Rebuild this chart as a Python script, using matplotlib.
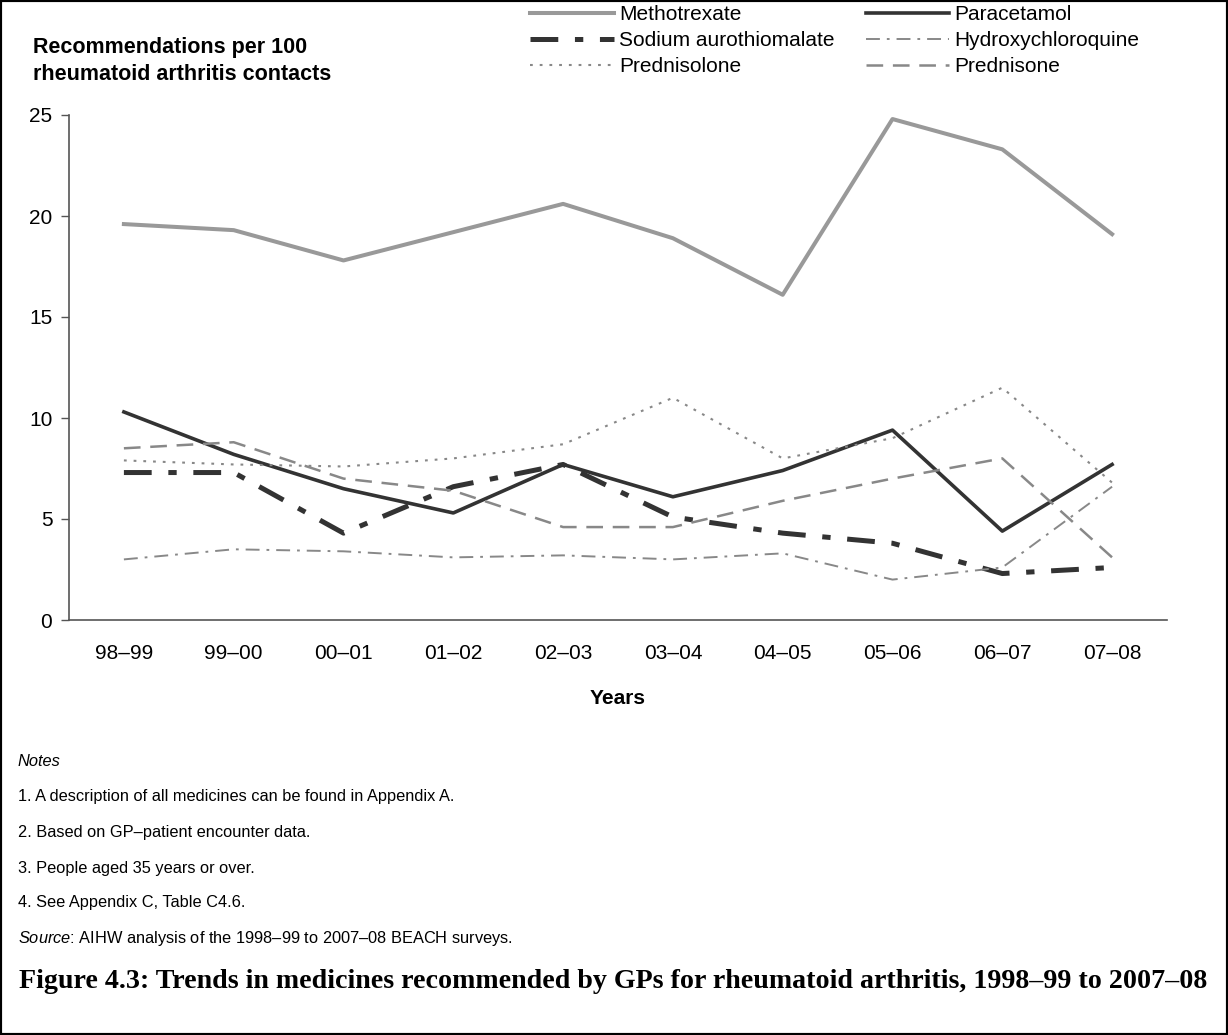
import matplotlib
matplotlib.use("Agg")
import matplotlib.pyplot as plt
from matplotlib.patches import Rectangle

plt.rcParams['font.family'] = ['Liberation Sans', 'DejaVu Sans']
plt.rcParams['lines.scale_dashes'] = False
plt.rcParams['mathtext.fontset'] = 'custom'
plt.rcParams['mathtext.it'] = 'Liberation Sans:italic'
plt.rcParams['mathtext.rm'] = 'Liberation Sans'

years = ['98–99', '99–00', '00–01', '01–02', '02–03', '03–04', '04–05', '05–06', '06–07', '07–08']
methotrexate = [19.6, 19.3, 17.8, 19.2, 20.6, 18.9, 16.1, 24.8, 23.3, 19.1]
paracetamol = [10.3, 8.2, 6.5, 5.3, 7.7, 6.1, 7.4, 9.4, 4.4, 7.7]
sodium_auro = [7.3, 7.3, 4.3, 6.6, 7.7, 5.1, 4.3, 3.8, 2.3, 2.6]
hydroxychloroquine = [3.0, 3.5, 3.4, 3.1, 3.2, 3.0, 3.3, 2.0, 2.6, 6.6]
prednisolone = [7.9, 7.7, 7.6, 8.0, 8.7, 11.0, 8.0, 9.0, 11.5, 6.8]
prednisone = [8.5, 8.8, 7.0, 6.4, 4.6, 4.6, 5.9, 7.0, 8.0, 3.1]

W, H = 1228, 1035
fig = plt.figure(figsize=(W / 100, H / 100), dpi=100)
ax = fig.add_axes([69 / W, 1 - 620 / H, (1167 - 69) / W, (620 - 115) / H])

x = list(range(len(years)))
h_meth, = ax.plot(x, methotrexate, color='#999999', lw=2.9, label='Methotrexate')
h_para, = ax.plot(x, paracetamol, color='#333333', lw=2.6, label='Paracetamol')
h_sod, = ax.plot(x, sodium_auro, color='#333333', lw=3.6, dashes=(20, 12, 6, 12),
                 label='Sodium aurothiomalate')
h_hyd, = ax.plot(x, hydroxychloroquine, color='#888888', lw=1.4, dashes=(10, 5, 2, 5),
                 label='Hydroxychloroquine')
h_pnl, = ax.plot(x, prednisolone, color='#888888', lw=1.5, dashes=(2, 5),
                 label='Prednisolone')
h_pne, = ax.plot(x, prednisone, color='#888888', lw=1.8, dashes=(12, 7),
                 label='Prednisone')

ax.set_xlim(-0.5, 9.5)
ax.set_ylim(0, 25)
ax.set_yticks([0, 5, 10, 15, 20, 25])
ax.set_xticks(x)
ax.set_xticklabels(years)
ax.tick_params(axis='x', length=0, pad=17, labelsize=15)
ax.tick_params(axis='y', length=6, width=1, color='#555555', pad=6, labelsize=15)
for s in ['top', 'right']:
    ax.spines[s].set_visible(False)
for s in ['left', 'bottom']:
    ax.spines[s].set_color('#555555')
    ax.spines[s].set_linewidth(1.2)

ax.set_xlabel('Years', fontsize=15, fontweight='bold', labelpad=19)

fig.text(33 / W, 1 - 47 / H, 'Recommendations per 100', fontsize=15.5, fontweight='bold',
         va='center', ha='left')
fig.text(33 / W, 1 - 75 / H, 'rheumatoid arthritis contacts', fontsize=15.5, fontweight='bold',
         va='center', ha='left')

handles = [h_meth, h_sod, h_pnl, h_para, h_hyd, h_pne]
fig.legend(handles=handles, labels=[h.get_label() for h in handles], ncol=2,
           loc='upper left', bbox_to_anchor=(520 / W, 1 + 5 / H), frameon=False,
           fontsize=15, handlelength=4.0, handletextpad=0.25, columnspacing=1.5,
           labelspacing=0.33, borderpad=0.0)

notes = [
    (761, 'Notes', 'italic'),
    (797, '1. A description of all medicines can be found in Appendix A.', 'normal'),
    (832, '2. Based on GP–patient encounter data.', 'normal'),
    (868, '3. People aged 35 years or over.', 'normal'),
    (903, '4. See Appendix C, Table C4.6.', 'normal'),
    (939, r'$\it{Source}$: AIHW analysis of the 1998–99 to 2007–08 BEACH surveys.', 'normal'),
]
for y, t, st in notes:
    fig.text(18 / W, 1 - y / H, t, fontsize=11.8, style=st, va='center', ha='left')

fig.text(19 / W, 1 - 981 / H,
         'Figure 4.3: Trends in medicines recommended by GPs for rheumatoid arthritis, 1998–99 to 2007–08',
         fontsize=20.2, fontweight='bold', family=['Liberation Serif', 'DejaVu Serif'],
         va='center', ha='left')

fig.patches.append(Rectangle((0, 0), 1, 1, transform=fig.transFigure, fill=False,
                             edgecolor='black', lw=3))

fig.savefig('out.png', dpi=100)
